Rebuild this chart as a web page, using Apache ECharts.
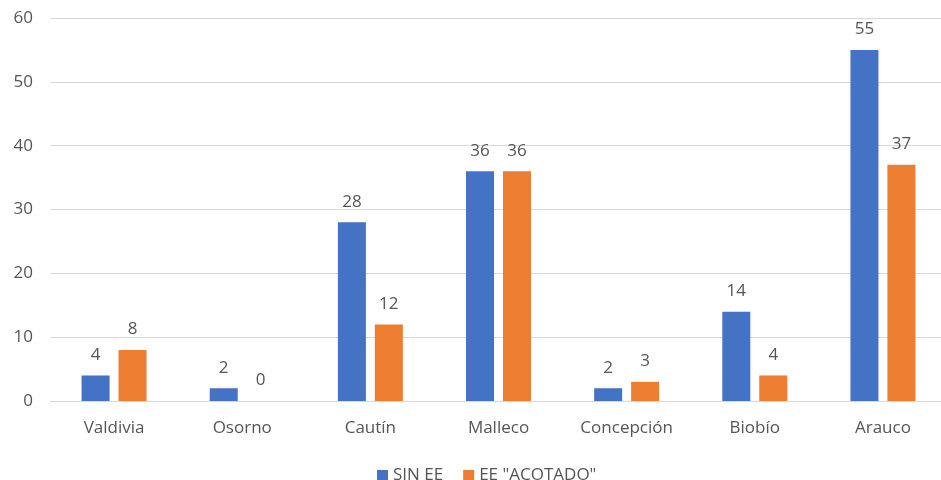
<!DOCTYPE html>
<html>
<head>
<meta charset="utf-8">
<script src="https://cdn.jsdelivr.net/npm/echarts@6/dist/echarts.min.js"></script>
<style>html,body{margin:0;padding:0;background:#fff;}#c{width:941px;height:480px;}</style>
</head>
<body>
<div id="c"></div>
<script>
const categories = ['Valdivia', 'Osorno', 'Cautín', 'Malleco', 'Concepción', 'Biobío', 'Arauco'];
const sinEE = [4, 2, 28, 36, 2, 14, 55];
const eeAcotado = [8, 0, 12, 36, 3, 4, 37];
const seriesNames = ['SIN EE', 'EE "ACOTADO"'];

const font = '"Open Sans", "Segoe UI", sans-serif';
const txt = '#555555';
const chart = echarts.init(document.getElementById('c'));
chart.setOption({
  animation: false,
  textStyle: { fontFamily: font },
  grid: { left: 50, width: 897, top: 18, bottom: 79, containLabel: false, outerBoundsMode: 'none' },
  legend: {
    top: 462, left: 372, itemWidth: 11, itemHeight: 11, itemGap: 20,
    icon: 'rect',
    textStyle: { color: txt, fontSize: 17, fontFamily: font },
    data: seriesNames
  },
  xAxis: {
    type: 'category', data: categories,
    axisLine: { lineStyle: { color: '#d9d9d9' } },
    axisTick: { show: false },
    axisLabel: { color: txt, fontSize: 17, margin: 19, fontFamily: font }
  },
  yAxis: {
    type: 'value', min: 0, max: 60, interval: 10,
    axisLine: { show: false }, axisTick: { show: false },
    splitLine: { lineStyle: { color: '#d9d9d9' } },
    axisLabel: { color: txt, fontSize: 17, margin: 17, fontFamily: font }
  },
  series: [
    { name: seriesNames[0], type: 'bar', data: sinEE, barWidth: 28, barGap: '32%',
      itemStyle: { color: '#4472C4' },
      label: { show: true, position: 'top', distance: 12, color: txt, fontSize: 17, fontFamily: font } },
    { name: seriesNames[1], type: 'bar', data: eeAcotado, barWidth: 28,
      itemStyle: { color: '#ED7D31' },
      label: { show: true, position: 'top', distance: 12, color: txt, fontSize: 17, fontFamily: font } }
  ]
});
</script>
</body>
</html>
